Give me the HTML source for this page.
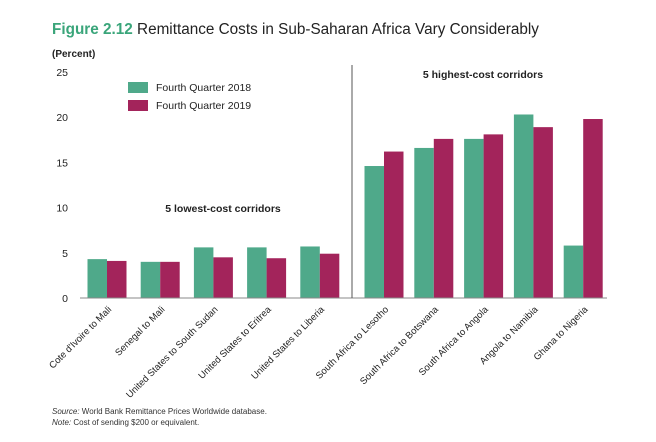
<!DOCTYPE html>
<html><head><meta charset="utf-8"><style>
body{margin:0;background:#fff;width:656px;height:437px;overflow:hidden;font-family:"Liberation Sans",sans-serif}
</style></head><body>
<svg width="656" height="437" font-family="Liberation Sans, sans-serif">
<text x="52" y="34" font-size="15.3" fill="#222"><tspan font-weight="bold" fill="#3aa57a">Figure 2.12</tspan> Remittance Costs in Sub-Saharan Africa Vary Considerably</text>
<text x="52" y="57" font-size="10" font-weight="bold" fill="#222">(Percent)</text>
<g id="g"></g>
<line x1="352" y1="65" x2="352" y2="298" stroke="#555" stroke-width="1"/>
<text x="223" y="212" font-size="10.5" font-weight="bold" text-anchor="middle" fill="#222">5 lowest-cost corridors</text>
<text x="483" y="78" font-size="10.5" font-weight="bold" text-anchor="middle" fill="#222">5 highest-cost corridors</text>
<rect x="128" y="82" width="20" height="11" fill="#4fa98a"/>
<text x="156" y="91" font-size="10.5" fill="#222">Fourth Quarter 2018</text>
<rect x="128" y="100" width="20" height="11" fill="#a3245b"/>
<text x="156" y="109" font-size="10.5" fill="#222">Fourth Quarter 2019</text>
<text x="52" y="414" font-size="8" fill="#333"><tspan font-style="italic">Source:</tspan> World Bank Remittance Prices Worldwide database.</text>
<text x="52" y="425" font-size="8" fill="#333"><tspan font-style="italic">Note:</tspan> Cost of sending $200 or equivalent.</text>
</svg>
<script>
const categories=["Cote d'Ivoire to Mali","Senegal to Mali","United States to South Sudan","United States to Eritrea","United States to Liberia","South Africa to Lesotho","South Africa to Botswana","South Africa to Angola","Angola to Namibia","Ghana to Nigeria"];
const q2018=[4.3,4.0,5.6,5.6,5.7,14.6,16.6,17.6,20.3,5.8];
const q2019=[4.1,4.0,4.5,4.4,4.9,16.2,17.6,18.1,18.9,19.8];
const yTicks=[0,5,10,15,20,25];
const NS="http://www.w3.org/2000/svg";
const g=document.getElementById('g');
function y(v){return 298-v*(226/25);}
function xc(i){return i<5?107+i*53.2:384+(i-5)*49.8;}
function mk(t,a){const e=document.createElementNS(NS,t);for(const k in a)e.setAttribute(k,a[k]);g.appendChild(e);return e;}
yTicks.forEach(t=>{const e=mk('text',{x:68,y:y(t)+4,'font-size':10.5,'text-anchor':'end',fill:'#222'});e.textContent=t;

});
const bw=19.5;
categories.forEach((c,i)=>{const cx=xc(i);
const a=mk('rect',{x:cx-bw,y:y(q2018[i]),width:bw,height:298-y(q2018[i]),fill:'#4fa98a'});


const b=mk('rect',{x:cx,y:y(q2019[i]),width:bw,height:298-y(q2019[i]),fill:'#a3245b'});


const t=mk('text',{x:cx+5,y:310,'font-size':9.5,'text-anchor':'end',fill:'#222',transform:`rotate(-45 ${cx+5} 310)`});t.textContent=c;

});
const ax=mk('line',{x1:80,y1:298,x2:607,y2:298,stroke:'#888','stroke-width':1});


</script>
</body></html>
